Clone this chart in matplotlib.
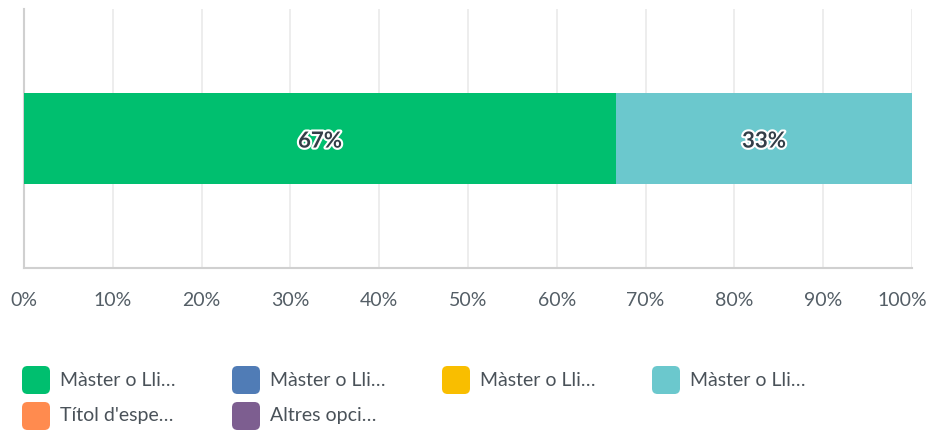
import matplotlib
matplotlib.use("Agg")
import matplotlib.pyplot as plt
import matplotlib.patheffects as pe
import matplotlib.transforms as mtransforms
from matplotlib.patches import FancyBboxPatch

categories = ["Màster o Lli…", "Màster o Lli…", "Màster o Lli…", "Màster o Lli…",
              "Títol d'espe…", "Altres opci…"]
values = [66.67, 0, 0, 33.33, 0, 0]
colors = ["#00bf6f", "#507cb6", "#f9be00", "#6bc8cd", "#ff8b4f", "#7d5e90"]
xticks = [0, 10, 20, 30, 40, 50, 60, 70, 80, 90, 100]
xtick_labels = [f"{t}%" for t in xticks]

plt.rcParams['font.family'] = ['Lato', 'DejaVu Sans']

W, H = 931, 432
fig = plt.figure(figsize=(W / 100, H / 100), dpi=100)
ax = fig.add_axes([24 / W, (H - 268) / H, 888 / W, 259 / H])

left = 0
for v, c in zip(values, colors):
    if v > 0:
        ax.barh(0.5, v, left=left, height=0.351, color=c, zorder=3)
        ax.text(left + v / 2, 0.49, f"{round(v)}%", ha="center", va="center",
                fontsize=16, fontweight="bold", color="#333e48", zorder=4,
                path_effects=[pe.withStroke(linewidth=3, foreground="white")])
    left += v

ax.set_xlim(0, 100)
ax.set_ylim(0, 1)
ax.set_xticks(xticks)
ax.set_xticklabels(xtick_labels)
ax.set_yticks([])
ax.grid(axis="x", color="#ececec", linewidth=1.3, zorder=0)
ax.tick_params(axis="x", length=0, pad=17, labelsize=14, labelcolor="#545e66")
labels = ax.get_xticklabels()
labels[-1].set_transform(labels[-1].get_transform() +
                         mtransforms.ScaledTranslation(-10 / 100, 0, fig.dpi_scale_trans))
for s in ["top", "right"]:
    ax.spines[s].set_visible(False)
ax.spines["left"].set_color("#d0d0d0")
ax.spines["left"].set_linewidth(1.5)
ax.spines["bottom"].set_color("#d0d0d0")
ax.spines["bottom"].set_linewidth(1.5)

# legend drawn in figure pixel coordinates
col_x = [22, 232, 442, 652]
row_y = [380, 416]
for i, (lab, c) in enumerate(zip(categories, colors)):
    r, k = divmod(i, 4)
    x0 = col_x[k]
    yc = row_y[r]
    p = FancyBboxPatch((x0 / W, (H - yc - 14) / H), 28 / W, 28 / H,
                       boxstyle="round,pad=0,rounding_size=0.006",
                       transform=fig.transFigure, facecolor=c, edgecolor="none",
                       mutation_aspect=W / H)
    fig.patches.append(p)
    fig.text((x0 + 38) / W, (H - yc) / H, lab, ha="left", va="center",
             fontsize=14, color="#4a5259")

fig.savefig("out.png", dpi=100)
